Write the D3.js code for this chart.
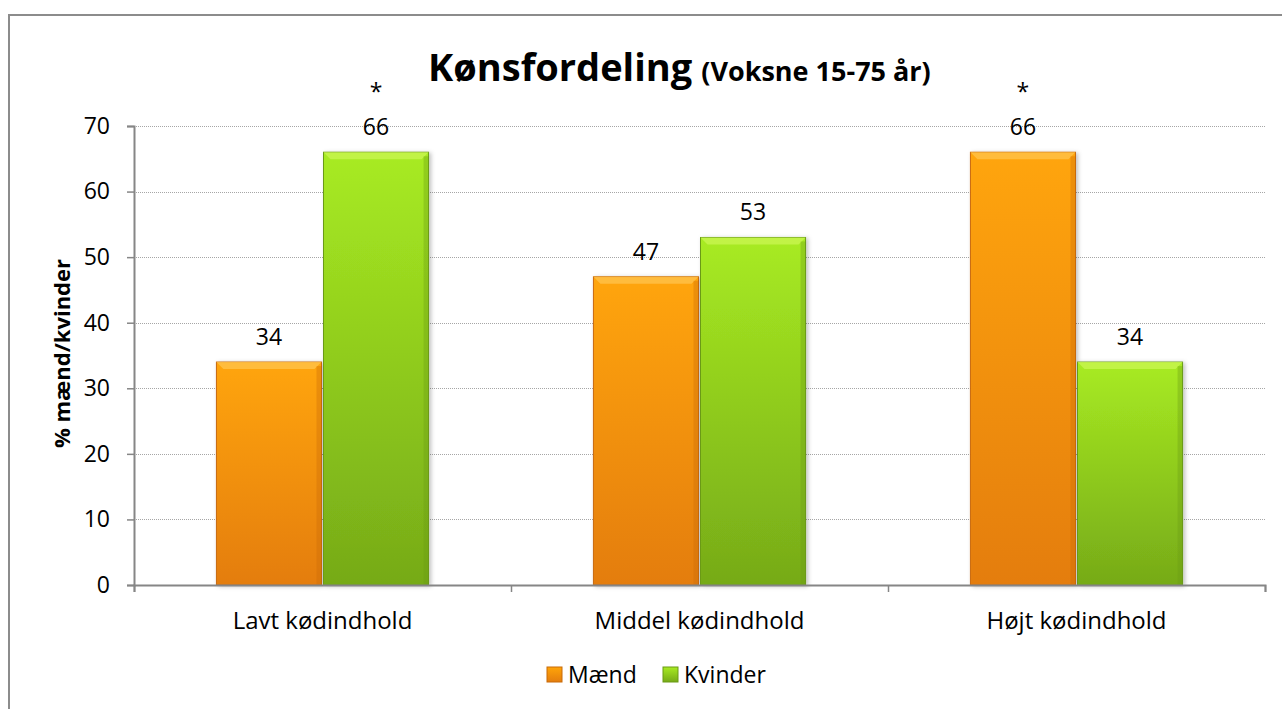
<!DOCTYPE html>
<html>
<head>
<meta charset="utf-8">
<script src="https://cdn.jsdelivr.net/npm/d3@7"></script>
<style>
  body { margin: 0; background: #fff; }
  svg { display: block; font-family: 'Open Sans', 'Noto Sans', sans-serif; }
</style>
</head>
<body>
<svg id="chart"></svg>
<script>
// chart data
const categories = ['Lavt kødindhold', 'Middel kødindhold', 'Højt kødindhold'];
const seriesNames = ['Mænd', 'Kvinder'];
const maendValues = [34, 47, 66];
const kvinderValues = [66, 53, 34];
const maendStars = [false, false, true];
const kvinderStars = [true, false, false];
const yTicks = [0, 10, 20, 30, 40, 50, 60, 70];

const W = 1282, H = 709;
const margin = { top: 126, right: 17, bottom: 124, left: 134 };
const width = W - margin.left - margin.right;
const height = H - margin.top - margin.bottom;

const svg = d3.select('#chart').
  attr('width', W).
  attr('height', H);

// outer chart border
svg.append('rect').
  attr('x', 9).attr('y', 15).
  attr('width', W + 20).attr('height', H + 20).
  attr('fill', '#fff').
  attr('stroke', '#8c8c8c').
  attr('stroke-width', 2);

const defs = svg.append('defs');
function addGrad(id, top, bottom) {
  const g = defs.append('linearGradient').attr('id', id).
    attr('x1', 0).attr('y1', 0).attr('x2', 0).attr('y2', 1);
  g.append('stop').attr('offset', '0%').attr('stop-color', top);
  g.append('stop').attr('offset', '100%').attr('stop-color', bottom);
}
addGrad('grad-m', '#ffa508', '#e47d0e');
addGrad('grad-k', '#a8eb22', '#76aa18');

const colors = { 'Mænd': 'url(#grad-m)', 'Kvinder': 'url(#grad-k)' };
const edge = { 'Mænd': '#c86a08', 'Kvinder': '#6a9a14' };
const topLight = { 'Mænd': '#ffc24a', 'Kvinder': '#c8f550' };

const shadow = defs.append('filter').attr('id', 'shadow').
  attr('x', '-10%').attr('y', '-10%').attr('width', '130%').attr('height', '120%');
shadow.append('feDropShadow').attr('dx', 2).attr('dy', 1).
  attr('stdDeviation', 2).attr('flood-color', '#000').attr('flood-opacity', 0.25);

const g = svg.append('g').
  attr('transform', `translate(${margin.left}, ${margin.top})`);

const x0 = d3.scaleBand().
  domain(categories).
  range([0, width]).
  paddingInner(0.432).
  paddingOuter(0.216);

const x1 = d3.scaleBand().
  domain(seriesNames).
  range([0, x0.bandwidth()]);

const y = d3.scaleLinear().
  domain([0, 70]).
  range([height, 0]);

// gridlines
g.append('g').
  selectAll('line').
  data(yTicks.filter(d => d > 0)).
  enter().append('line').
  attr('x1', 0).attr('x2', width).
  attr('y1', d => Math.round(y(d)) + 0.5).
  attr('y2', d => Math.round(y(d)) + 0.5).
  attr('stroke', '#a6a6a6').
  attr('stroke-dasharray', '1,1');

const rows = categories.map((c, i) => ({
  cat: c,
  vals: [
    { name: 'Mænd', v: maendValues[i], star: maendStars[i] },
    { name: 'Kvinder', v: kvinderValues[i], star: kvinderStars[i] }
  ]
}));

const groups = g.selectAll('.grp').
  data(rows).
  enter().append('g').
  attr('class', 'grp').
  attr('transform', d => `translate(${x0(d.cat)}, 0)`);

const bars = groups.selectAll('.bar').
  data(d => d.vals).
  enter().append('g').
  attr('class', 'bar');

bars.append('rect').
  attr('x', d => x1(d.name) + 1).
  attr('y', d => y(d.v)).
  attr('width', x1.bandwidth() - 2).
  attr('height', d => height - y(d.v)).
  attr('fill', d => colors[d.name]).
  attr('stroke', d => edge[d.name]).
  attr('stroke-width', 1).
  attr('filter', 'url(#shadow)');

// bevel highlight on top
bars.append('polygon').
  attr('points', d => {
    const xl = x1(d.name) + 1, xr = x1(d.name) + x1.bandwidth() - 1, yt = y(d.v);
    return `${xl},${yt} ${xr},${yt} ${xr - 7},${yt + 7} ${xl + 7},${yt + 7}`;
  }).
  attr('fill', d => topLight[d.name]).
  attr('opacity', 0.8);

// darker side edges
bars.append('rect').
  attr('x', d => x1(d.name) + x1.bandwidth() - 6).
  attr('y', d => y(d.v) + 4).
  attr('width', 5).
  attr('height', d => height - y(d.v) - 4).
  attr('fill', d => edge[d.name]).
  attr('opacity', 0.35);

// value labels
bars.append('text').
  attr('x', d => x1(d.name) + x1.bandwidth() / 2).
  attr('y', d => y(d.v) - 17).
  attr('text-anchor', 'middle').
  attr('font-size', 23).
  attr('fill', '#000').
  text(d => d.v);

bars.filter(d => d.star).append('text').
  attr('x', d => x1(d.name) + x1.bandwidth() / 2).
  attr('y', d => y(d.v) - 52).
  attr('text-anchor', 'middle').
  attr('font-size', 23).
  attr('fill', '#000').
  text('*');

// y axis
const yAxis = g.append('g').
  call(d3.axisLeft(y).tickValues(yTicks).tickSize(7).tickPadding(17));
yAxis.select('.domain').attr('stroke', '#868686').attr('stroke-width', 2);
yAxis.selectAll('.tick line').attr('stroke', '#868686').attr('stroke-width', 1.5);
yAxis.selectAll('text').attr('font-size', 23).attr('fill', '#000').
  attr('font-family', "'Open Sans', sans-serif");

// x axis
const xAxis = g.append('g').
  attr('transform', `translate(0, ${height})`).
  call(d3.axisBottom(d3.scaleLinear().domain([0, 3]).range([0, width])).
    ticks(3).tickSize(7).tickFormat(''));
xAxis.select('.domain').attr('stroke', '#868686').attr('stroke-width', 2);
xAxis.selectAll('.tick line').attr('stroke', '#868686').attr('stroke-width', 1.5);

g.append('g').
  selectAll('text').
  data(categories).
  enter().append('text').
  attr('x', d => x0(d) + x0.bandwidth() / 2).
  attr('y', height + 44).
  attr('text-anchor', 'middle').
  attr('font-size', 24).
  attr('fill', '#000').
  text(d => d);

// y label
svg.append('text').
  attr('transform', `translate(70, ${margin.top + height / 2 - 2}) rotate(-90)`).
  attr('text-anchor', 'middle').
  attr('font-size', 22).
  attr('font-weight', 'bold').
  attr('fill', '#000').
  text('% mænd/kvinder');

// title
const title = svg.append('text').
  attr('x', 428).
  attr('y', 81).
  attr('text-anchor', 'start').
  attr('fill', '#000').
  attr('font-weight', 'bold');
title.append('tspan').attr('font-size', 38).text('Kønsfordeling');
title.append('tspan').attr('font-size', 27).attr('dx', 2).text(' (Voksne 15-75 år)');

// legend
const legend = svg.append('g').attr('transform', 'translate(547, 683)');
const legItems = [
  { name: 'Mænd', x: 0 },
  { name: 'Kvinder', x: 116 }
];
legItems.forEach(it => {
  legend.append('rect').
    attr('x', it.x).attr('y', -16).
    attr('width', 15).attr('height', 15).
    attr('fill', colors[it.name]).
    attr('stroke', edge[it.name]);
  legend.append('text').
    attr('x', it.x + 21).attr('y', 0).
    attr('font-size', 23).
    attr('fill', '#000').
    text(it.name);
});
</script>
</body>
</html>
